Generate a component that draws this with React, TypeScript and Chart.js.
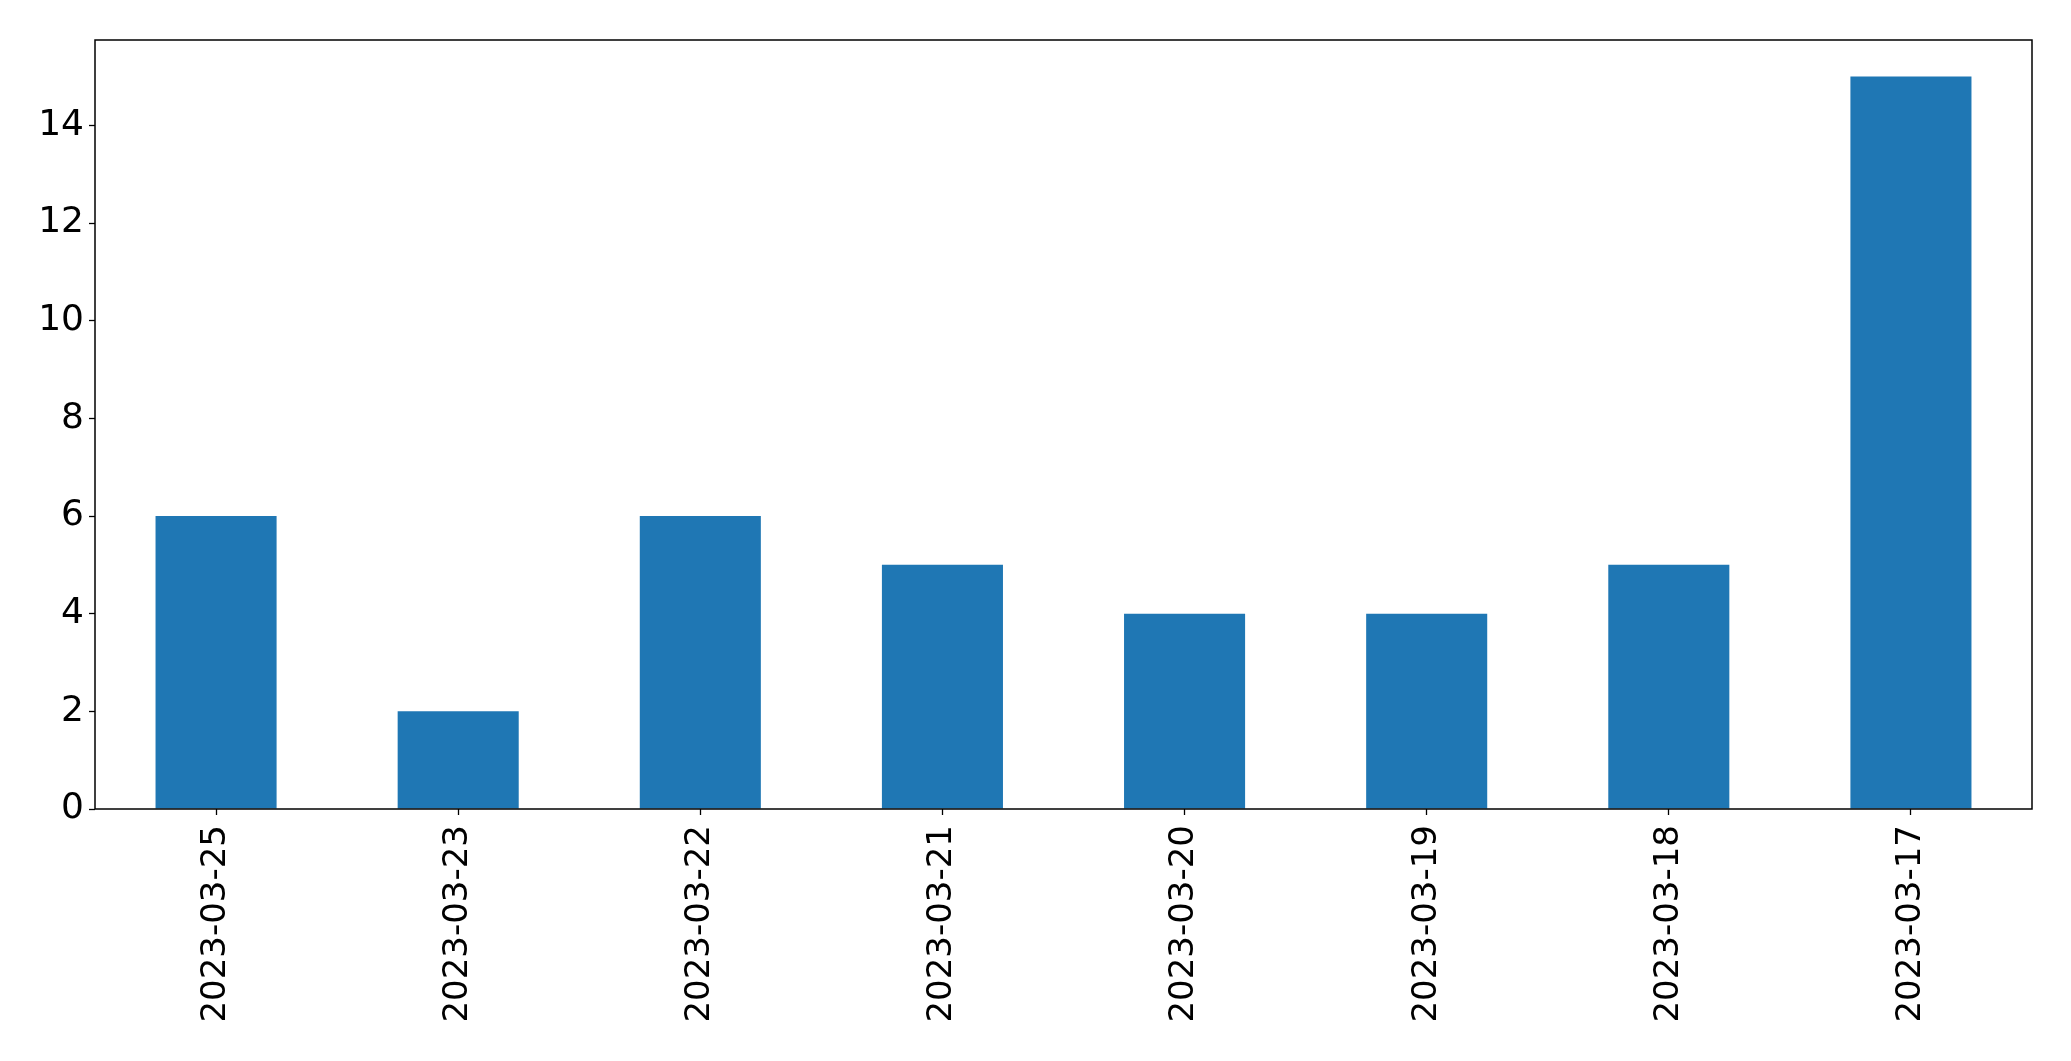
import React, { useEffect, useRef } from "react";
import { Chart, registerables } from "chart.js";

Chart.register(...registerables);

const categories = [
  "2023-03-25",
  "2023-03-23",
  "2023-03-22",
  "2023-03-21",
  "2023-03-20",
  "2023-03-19",
  "2023-03-18",
  "2023-03-17",
];
const counts = [6, 2, 6, 5, 4, 4, 5, 15];
const yMax = 15.75;
const yStep = 2;

const W = 2071;
const H = 1061;
const plotLeft = 95;
const plotTop = 40;
const plotRight = 2032;
const plotBottom = 809;

const frame = {
  id: "frame",
  afterDatasetsDraw(chart: any) {
    const { ctx, chartArea } = chart;
    ctx.save();
    ctx.strokeStyle = "#000";
    ctx.lineWidth = 1.5;
    ctx.strokeRect(chartArea.left, chartArea.top, chartArea.right - chartArea.left, chartArea.bottom - chartArea.top);
    ctx.restore();
  },
};

export default function App() {
  const ref = useRef<HTMLCanvasElement | null>(null);
  useEffect(() => {
    if (!ref.current) return;
    const chart = new Chart(ref.current, {
      type: "bar",
      data: {
        labels: categories,
        datasets: [
          {
            data: counts,
            backgroundColor: "#1f77b4",
            borderWidth: 0,
            barPercentage: 0.5,
            categoryPercentage: 1,
          },
        ],
      },
      options: {
        animation: false,
        responsive: false,
        maintainAspectRatio: false,
        layout: { padding: { left: 0, top: plotTop, right: W - plotRight, bottom: 0 } },
        plugins: { legend: { display: false }, tooltip: { enabled: false } },
        scales: {
          x: {
            offset: true,
            afterFit(scale: any) {
              scale.height = H - plotBottom;
            },
            grid: { display: true, offset: false, drawOnChartArea: false, drawTicks: true, tickLength: 6, tickColor: "#000", tickWidth: 1.3 },
            border: { display: false },
            ticks: {
              color: "#000",
              font: { family: "DejaVu Sans", size: 34 },
              maxRotation: 90,
              minRotation: 90,
              autoSkip: false,
              padding: 10,
            },
          },
          y: {
            min: 0,
            max: yMax,
            afterFit(scale: any) {
              scale.width = plotLeft;
            },
            grid: { display: true, drawOnChartArea: false, drawTicks: true, tickLength: 6, tickColor: "#000", tickWidth: 1.3 },
            border: { display: false },
            ticks: {
              stepSize: yStep,
              includeBounds: false,
              color: "#000",
              font: { family: "DejaVu Sans", size: 36 },
              padding: 5,
            },
          },
        },
      },
      plugins: [frame],
    });
    return () => chart.destroy();
  }, []);
  return (
    <div style={{ position: "fixed", left: 0, top: 0, width: W, height: H, background: "#fff" }}>
      <canvas ref={ref} width={W} height={H} style={{ width: W, height: H, display: "block" }} />
    </div>
  );
}
